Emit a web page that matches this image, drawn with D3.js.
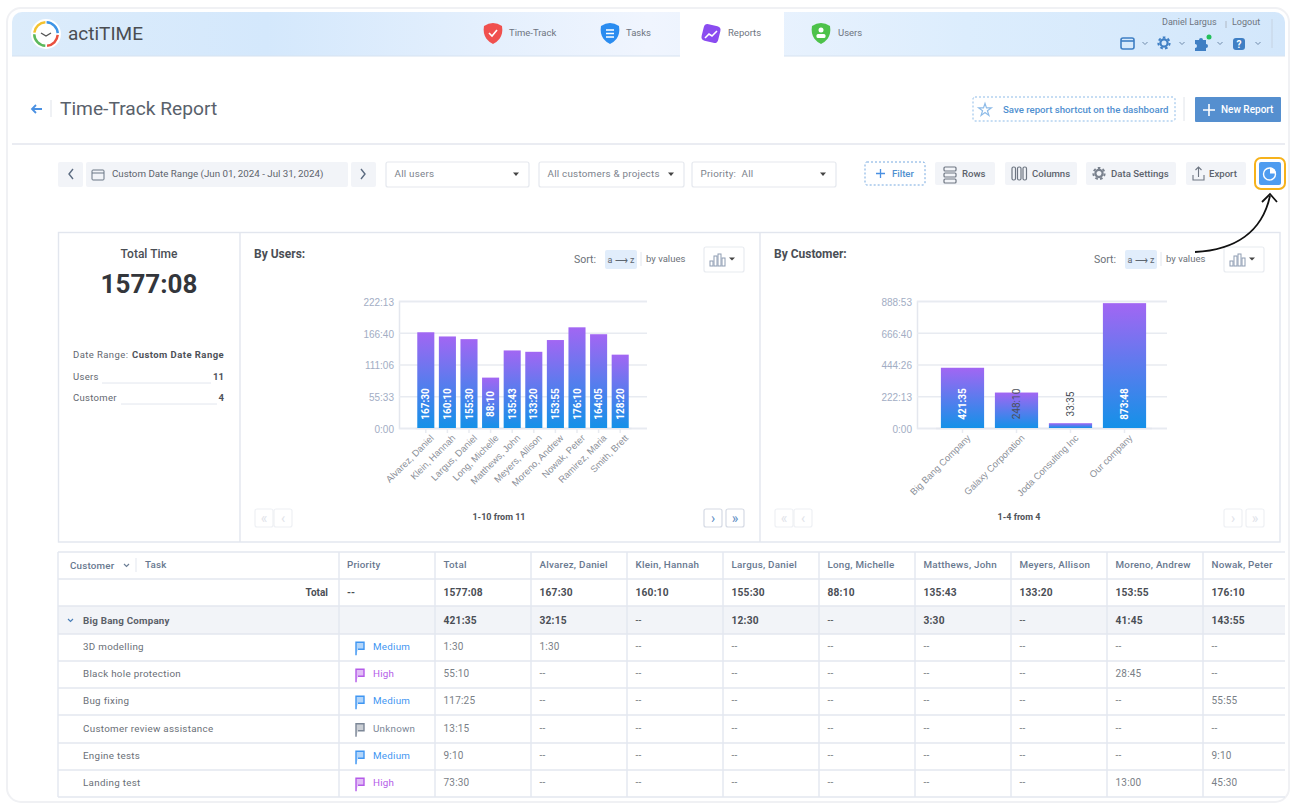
<!DOCTYPE html>
<html>
<head>
<meta charset="utf-8">
<script src="https://cdn.jsdelivr.net/npm/d3@7"></script>
<style>
  html, body { margin: 0; padding: 0; background: #fff; }
  svg { display: block; font-family: Roboto, sans-serif; }
  .axis path.domain { stroke: #e4e7ee; stroke-width: 1.5; }
  .axis line { stroke: #e8ebf1; stroke-width: 1.5; }
  .axis text { fill: #a2adc4; font-size: 10px; }
  .axis.x text { fill: #8b8f98; font-size: 9.4px; }
</style>
</head>
<body>
<svg id="page" width="1297" height="810"></svg>
<script>
// chart values
const userNames = ['Alvarez, Daniel', 'Klein, Hannah', 'Largus, Daniel', 'Long, Michelle', 'Matthews, John',
                   'Meyers, Allison', 'Moreno, Andrew', 'Nowak, Peter', 'Ramirez, Maria', 'Smith, Brett'];
const userTimes = ['167:30', '160:10', '155:30', '88:10', '135:43', '133:20', '153:55', '176:10', '164:05', '128:20'];
const userTicks = ['0:00', '55:33', '111:06', '166:40', '222:13'];

const customerNames = ['Big Bang Company', 'Galaxy Corporation', 'Joda Consulting Inc', 'Our company'];
const customerTimes = ['421:35', '248:10', '33:35', '873:48'];
const customerTicks = ['0:00', '222:13', '444:26', '666:40', '888:53'];

// table values
const tableHeaders = ['Total', 'Alvarez, Daniel', 'Klein, Hannah', 'Largus, Daniel', 'Long, Michelle',
                      'Matthews, John', 'Meyers, Allison', 'Moreno, Andrew', 'Nowak, Peter'];
const totalRow = ['1577:08', '167:30', '160:10', '155:30', '88:10', '135:43', '133:20', '153:55', '176:10'];
const bigBangRow = ['421:35', '32:15', '--', '12:30', '--', '3:30', '--', '41:45', '143:55'];
const taskNames = ['3D modelling', 'Black hole protection', 'Bug fixing', 'Customer review assistance', 'Engine tests', 'Landing test'];
const taskPriorities = ['Medium', 'High', 'Medium', 'Unknown', 'Medium', 'High'];
const taskTimes = [
  ['1:30', '1:30', '--', '--', '--', '--', '--', '--', '--'],
  ['55:10', '--', '--', '--', '--', '--', '--', '28:45', '--'],
  ['117:25', '--', '--', '--', '--', '--', '--', '--', '55:55'],
  ['13:15', '--', '--', '--', '--', '--', '--', '--', '--'],
  ['9:10', '--', '--', '--', '--', '--', '--', '--', '9:10'],
  ['73:30', '--', '--', '--', '--', '--', '--', '13:00', '45:30']
];

const svg = d3.select('#page');
const toMinutes = s => { let p = s.split(':'); return +p[0] * 60 + +p[1]; };
const priorityColor = {Medium: '#3f96f2', High: '#b45be8', Unknown: '#7c8797'};

function txt(g, x, y, str, o = {}) {
  return g.append('text')
          .attr('x', x).attr('y', y)
          .attr('font-size', o.size || 10)
          .attr('font-weight', o.weight || 400)
          .attr('fill', o.fill || '#5b6068')
          .attr('text-anchor', o.anchor || 'start')
          .attr('letter-spacing', o.spacing || 0)
          .text(str);
}

function box(g, x0, y0, x1, y1, o = {}) {
  return g.append('rect')
          .attr('x', x0).attr('y', y0)
          .attr('width', x1 - x0).attr('height', y1 - y0)
          .attr('rx', o.rx === undefined ? 2 : o.rx)
          .attr('fill', o.fill || 'none')
          .attr('stroke', o.stroke || 'none')
          .attr('stroke-width', o.sw || 1)
          .attr('stroke-dasharray', o.dash || null);
}

function line(g, x0, y0, x1, y1, color, width = 1) {
  return g.append('line').attr('x1', x0).attr('y1', y0).attr('x2', x1).attr('y2', y1)
          .attr('stroke', color).attr('stroke-width', width);
}

function stroke(g, d, color, width = 1) {
  return g.append('path').attr('d', d).attr('fill', 'none').attr('stroke', color).attr('stroke-width', width);
}

// cog made of a ring and a dashed ring for the teeth
function cog(g, x, y, color) {
  g.append('circle').attr('cx', x).attr('cy', y).attr('r', 3.6).attr('fill', 'none').attr('stroke', color).attr('stroke-width', 2.2);
  g.append('circle').attr('cx', x).attr('cy', y).attr('r', 5.6).attr('fill', 'none').attr('stroke', color)
   .attr('stroke-width', 2).attr('stroke-dasharray', '2.6 2.3');
}

const defs = svg.append('defs');
let barGrad = defs.append('linearGradient').attr('id', 'barGrad').attr('x1', 0).attr('y1', 0).attr('x2', 0).attr('y2', 1);
barGrad.append('stop').attr('offset', '0%').attr('stop-color', '#a266f3');
barGrad.append('stop').attr('offset', '100%').attr('stop-color', '#1491e8');
let headGrad = defs.append('linearGradient').attr('id', 'headGrad').attr('x1', 0).attr('y1', 0).attr('x2', 1).attr('y2', 0);
headGrad.append('stop').attr('offset', '0%').attr('stop-color', '#dcecfb');
headGrad.append('stop').attr('offset', '20%').attr('stop-color', '#d4e8fc');
headGrad.append('stop').attr('offset', '50%').attr('stop-color', '#f0f5fe');
headGrad.append('stop').attr('offset', '75%').attr('stop-color', '#dcedfd');
headGrad.append('stop').attr('offset', '100%').attr('stop-color', '#d3e7fb');

// page card and header
box(svg, 7, 8, 1289, 802, {fill: '#fff', stroke: '#f0f1f4', sw: 2, rx: 14});
const head = svg.append('g');
head.append('path').attr('d', 'M12 56V22a10 10 0 0 1 10-10H1275a10 10 0 0 1 10 10V56Z').attr('fill', 'url(#headGrad)');
line(head, 12, 56, 1285, 56, '#d6e2f0');
box(head, 680, 12, 784, 57, {fill: '#fff', rx: 0});

// logo
const logo = head.append('g').attr('transform', 'translate(46,34)');
logo.append('circle').attr('r', 15).attr('fill', '#fff');
const logoArc = d3.arc().innerRadius(10.5).outerRadius(13);
[[-1.45, -0.05, '#f4c22f'], [0.05, 1.5, '#3d94e6'], [1.65, 3.05, '#e9503f'], [3.2, 4.7, '#5cb85c']].forEach(a => {
  logo.append('path').attr('fill', a[2]).attr('d', logoArc({startAngle: a[0], endAngle: a[1]}));
});
stroke(logo, 'M-5 -1L0 2L5 -1', '#555', 1.4);
txt(head, 68, 40, 'actiTIME', {size: 19, fill: '#4a4d52'});

// nav tabs, icons are shield shaped
const shield = (x, y) => `M${x - 9} ${y - 7}Q${x} ${y - 13} ${x + 9} ${y - 7}C${x + 11} ${y + 4} ${x + 4} ${y + 9} ${x} ${y + 11}C${x - 4} ${y + 9} ${x - 11} ${y + 4} ${x - 9} ${y - 7}Z`;
[[493, 'Time-Track', 509, '#f0504e'], [610, 'Tasks', 626, '#2a8cf0'], [821, 'Users', 838, '#4dc24a']].forEach(t => {
  head.append('path').attr('d', shield(t[0], 33)).attr('fill', t[3]);
  txt(head, t[2], 36, t[1], {size: 9.5, fill: '#6d7480'});
});
head.append('rect').attr('x', 702.500).attr('y', 25).attr('width', 17).attr('height', 17).attr('rx', 4)
    .attr('transform', 'rotate(14 711 33.500)').attr('fill', '#8a4cf0');
txt(head, 728, 36, 'Reports', {size: 9.5, fill: '#6d7480'});
stroke(head, 'M489 33l3 3 5-6', '#fff', 1.6);
head.append('path').attr('d', 'M606 30h8M606 33.500h8M606 37h8').attr('stroke', '#fff').attr('stroke-width', 1.4);
stroke(head, 'M705 38l4-4 3 2 5-5', '#fff', 1.6);
head.append('circle').attr('cx', 821).attr('cy', 30).attr('r', 2.5).attr('fill', '#fff');
head.append('rect').attr('x', 816.500).attr('y', 34).attr('width', 9).attr('height', 4).attr('rx', 1.5).attr('fill', '#fff');

// user menu
txt(head, 1162, 25, 'Daniel Largus', {size: 9, fill: '#6d7480'});
line(head, 1226, 21, 1226, 28, '#b0b8c4');
txt(head, 1232, 25, 'Logout', {size: 9, fill: '#6d7480'});
line(head, 1272, 19, 1272, 48, '#c6d3e2');
box(head, 1121, 38, 1134, 49, {stroke: '#3f7fc4', sw: 1.6, rx: 2});
line(head, 1121, 41, 1134, 41, '#3f7fc4', 1.6);
cog(head, 1164, 43, '#3f7fc4');
head.append('path').attr('d', 'M1195 40h4a2 2 0 0 1 4 0h3v4a2 2 0 0 1 0 4v3h-11v-3a2 2 0 0 0 0-4Z').attr('fill', '#3f7fc4');
head.append('circle').attr('cx', 1209).attr('cy', 37).attr('r', 2.5).attr('fill', '#22c05a');
box(head, 1233, 38, 1245, 50, {fill: '#3f7fc4', rx: 3});
txt(head, 1239, 48, '?', {size: 10, weight: 700, fill: '#fff', anchor: 'middle'});
[1145, 1182, 1220, 1258].forEach(x => stroke(head, `M${x - 2.500} 42l2.500 2.500 2.500-2.500`, '#6f8bab'));

// title row
const title = svg.append('g');
stroke(title, 'M42 109H32M36 105l-4 4 4 4', '#4a90e2', 1.8);
line(title, 51, 100, 51, 117, '#dfe3ea');
txt(title, 60, 115, 'Time-Track Report', {size: 19.2, fill: '#59616b'});
box(title, 973, 97, 1175, 121, {stroke: '#8dbbe8', dash: '2 2', rx: 2});
title.append('path').attr('d', d3.symbol(d3.symbolStar, 50)()).attr('transform', 'translate(985,110)')
     .attr('fill', 'none').attr('stroke', '#8dbbe8').attr('stroke-width', 1.2);
txt(title, 1003, 113, 'Save report shortcut on the dashboard', {size: 9.63, fill: '#4f8fd0', weight: 500});
line(title, 1184, 97, 1184, 121, '#e0e4ea');
box(title, 1195, 97, 1281, 122, {fill: '#558fcf', rx: 1});
title.append('path').attr('d', 'M1203 110h12M1209 104v12').attr('stroke', '#fff').attr('stroke-width', 1.6);
txt(title, 1221, 113, 'New Report', {size: 10, fill: '#fff', weight: 500});
line(title, 12, 144, 1285, 144, '#e3e6ee', 1.5);

// filter row
const bar = svg.append('g');
box(bar, 58, 162, 83, 187, {fill: '#f2f4f8'});
box(bar, 86, 162, 348, 187, {fill: '#f2f4f8'});
box(bar, 351, 162, 376, 187, {fill: '#f2f4f8'});
stroke(bar, 'M73 169l-4 5 4 5', '#5b6b80', 1.4);
stroke(bar, 'M361 169l4 5-4 5', '#5b6b80', 1.4);
box(bar, 92, 170, 104, 180, {stroke: '#6b7785', rx: 1});
line(bar, 92, 173, 104, 173, '#6b7785');
txt(bar, 112, 177, 'Custom Date Range (Jun 01, 2024 - Jul 31, 2024)', {size: 9.75, fill: '#5d636c'});
[[386, 529, 'All users'], [539, 684, 'All customers & projects'], [692, 836, 'Priority:\u00a0\u00a0All']].forEach(s => {
  box(bar, s[0], 162, s[1], 187, {fill: '#fff', stroke: '#e5e8ee', sw: 1.2});
  txt(bar, s[0] + 8.5, 177, s[2], {size: 9.8, fill: '#7b828c', spacing: 0.25});
  bar.append('path').attr('d', `M${s[1] - 16} 172.500h6l-3 3.500Z`).attr('fill', '#444');
});
box(bar, 865, 162, 925, 185, {stroke: '#76a9e0', dash: '2 2'});
bar.append('path').attr('d', 'M876 173.500h9M880.500 169v9').attr('stroke', '#4a90e2').attr('stroke-width', 1.3);
txt(bar, 892, 177, 'Filter', {size: 9.6, fill: '#4f8fd0', weight: 500});
[[935, 995, 'Rows', 962], [1005, 1077, 'Columns', 1032], [1086, 1176, 'Data Settings', 1111], [1186, 1246, 'Export', 1209]].forEach(b => {
  box(bar, b[0], 162, b[1], 185, {fill: '#f2f4f8'});
  txt(bar, b[3], 177, b[2], {size: 9.6, fill: '#5d636c', weight: 500});
});
[0, 6, 12].forEach(d => box(bar, 944, 167 + d, 956, 171 + d, {stroke: '#6e7682', sw: 1.2, rx: 1}));
[0, 5.500, 11].forEach(d => box(bar, 1012 + d, 167, 1015.500 + d, 180, {stroke: '#6e7682', sw: 1.2, rx: 1.5}));
cog(bar, 1099, 173.500, '#7a828e');
stroke(bar, 'M1193 175v5h11v-5M1198.500 177v-10M1195.500 170l3-3 3 3', '#6e7682', 1.1);
box(bar, 1255, 158, 1285, 189, {stroke: '#f6b21b', sw: 2, rx: 6});
box(bar, 1259, 162, 1281, 185, {fill: '#4e9cf0', rx: 2});
bar.append('circle').attr('cx', 1269.500).attr('cy', 174).attr('r', 6).attr('fill', 'none').attr('stroke', '#fff').attr('stroke-width', 1.4);
bar.append('path').attr('d', 'M1270 173.500V167.500A6 6 0 0 1 1276 173.500Z').attr('fill', '#fff');

// summary panel
const panels = svg.append('g');
box(panels, 58.5, 232.5, 1280, 542, {stroke: '#e2e6ee', sw: 1.4, rx: 0});
line(panels, 240, 232, 240, 542, '#e2e6ee', 1.4);
line(panels, 760, 232, 760, 542, '#e2e6ee', 1.4);
txt(panels, 149, 258, 'Total Time', {size: 12, weight: 500, fill: '#4a4e55', anchor: 'middle'});
txt(panels, 149, 293, '1577:08', {size: 26, weight: 700, fill: '#33363b', anchor: 'middle'});
txt(panels, 73, 358, 'Date Range:', {size: 9.5, fill: '#62676f', spacing: 0.42});
txt(panels, 132, 358, 'Custom Date Range', {size: 9.5, weight: 700, fill: '#4d5158', spacing: 0.45});
txt(panels, 73, 380, 'Users', {size: 9.5, fill: '#62676f', spacing: 0.3});
line(panels, 102, 383, 211, 383, '#e2e6ee');
txt(panels, 224, 380, '11', {size: 9.5, weight: 700, fill: '#4d5158', anchor: 'end'});
txt(panels, 73, 401, 'Customer', {size: 9.5, fill: '#62676f', spacing: 0.3});
line(panels, 121, 404, 217, 404, '#e2e6ee');
txt(panels, 224, 401, '4', {size: 9.5, weight: 700, fill: '#4d5158', anchor: 'end'});

// one bar chart panel: x0 is the left edge of the panel
function barPanel(cfg) {
  let g = svg.append('g');
  txt(g, cfg.x0 + 14, 258, cfg.title, {size: 12, weight: 700, fill: '#4a4e55'});
  let c = cfg.controlsX;
  txt(g, c, 263, 'Sort:', {size: 10.5, fill: '#6c7178'});
  box(g, c + 31, 250, c + 63, 269, {fill: '#e1edfb', rx: 2});
  txt(g, c + 47, 263, 'a ⟶ z', {size: 9, fill: '#5d6670', anchor: 'middle'});
  line(g, c + 67, 252, c + 67, 266, '#e2e6ee');
  txt(g, c + 72, 262, 'by values', {size: 9.5, fill: '#6c7178'});
  box(g, c + 130, 247, c + 170, 272, {fill: '#fff', stroke: '#e8ebf0', sw: 1.2});
  [[0, 5], [4, 10], [8, 12], [12, 8]].forEach(b => box(g, c + 136 + b[0], 266 - b[1], c + 139 + b[0], 266, {stroke: '#8d9cb2', rx: 0}));
  g.append('path').attr('d', `M${c + 155} 257.500h6l-3 3Z`).attr('fill', '#444');

  let yScale = d3.scaleLinear()
                 .domain([0, toMinutes(cfg.ticks[cfg.ticks.length - 1])])
                 .range([428, 301]);
  let xScale = d3.scaleBand()
                 .domain(cfg.names)
                 .range(cfg.bandRange)
                 .paddingInner(cfg.pad)
                 .paddingOuter(cfg.pad / 2);

  let yAxis = d3.axisLeft(yScale)
                .tickValues(cfg.ticks.map(toMinutes))
                .tickFormat((d, i) => cfg.ticks[i])
                .tickSize(-(cfg.right - cfg.left))
                .tickPadding(5);
  let yg = g.append('g')
            .attr('class', 'axis y')
            .attr('transform', `translate(${cfg.left},0)`)
            .call(yAxis);
  yg.selectAll('text').attr('y', 1.2);

  let xAxis = d3.axisBottom(xScale).tickSize(5).tickSizeOuter(0);
  let xg = g.append('g')
            .attr('class', 'axis x')
            .attr('transform', 'translate(0,428)')
            .call(xAxis);
  xg.selectAll('text')
    .attr('text-anchor', 'end')
    .attr('dy', 0)
    .attr('transform', 'translate(3,5) rotate(-45)');

  g.selectAll('.bar')
   .data(cfg.times)
   .join('rect')
   .attr('class', 'bar')
   .attr('x', (d, i) => xScale(cfg.names[i]))
   .attr('y', d => yScale(toMinutes(d)))
   .attr('width', xScale.bandwidth())
   .attr('height', d => 428 - yScale(toMinutes(d)))
   .attr('fill', 'url(#barGrad)');

  // labels sit at one height; short bars get dark text
  g.selectAll('.barLabel')
   .data(cfg.times)
   .join('text')
   .attr('class', 'barLabel')
   .attr('transform', (d, i) => `translate(${xScale(cfg.names[i]) + xScale.bandwidth() / 2 + 3.5},404) rotate(-90)`)
   .attr('text-anchor', 'middle')
   .attr('font-size', 10)
   .attr('font-weight', d => toMinutes(d) < cfg.darkBelow ? 400 : 700)
   .attr('fill', d => toMinutes(d) < cfg.darkBelow ? '#4a4f58' : '#fff')
   .text(d => d);

  txt(g, cfg.pagerX, 520, cfg.pager, {size: 9, weight: 700, fill: '#4f5359', anchor: 'middle'});
  // pager buttons
  let pagerBox = (x, sym, on) => {
    box(g, x, 509, x + 18, 527, {stroke: on ? '#d5dae4' : '#eef0f4', sw: 1.2});
    txt(g, x + 9, 523, sym, {size: 14, fill: on ? '#5f8fc4' : '#dfe3ea', anchor: 'middle'});
  };
  pagerBox(cfg.x0 + 15, '«', false);
  pagerBox(cfg.x0 + 34, '‹', false);
  pagerBox(cfg.x0 + 464, '›', cfg.more);
  pagerBox(cfg.x0 + 486, '»', cfg.more);
}

barPanel({x0: 240, title: 'By Users:', controlsX: 574, names: userNames, times: userTimes, ticks: userTicks,
          left: 399, right: 647, bandRange: [415, 631], pad: 0.21, darkBelow: 0, pager: '1-10 from 11', pagerX: 499, more: true});
barPanel({x0: 760, title: 'By Customer:', controlsX: 1094, names: customerNames, times: customerTimes, ticks: customerTicks,
          left: 917, right: 1167, bandRange: [935.5, 1151.5], pad: 0.2, darkBelow: 15000, pager: '1-4 from 4', pagerX: 1019, more: false});

// annotation arrow
stroke(svg, 'M1195 252C1235 250 1262 232 1270 196', '#111', 1.8);
stroke(svg, 'M1262 202L1270 194L1277 202', '#111', 1.8);

// report table
const table = svg.append('g');
const rowEdges = [552, 579, 606, 634, 661, 688, 715, 743, 770, 797];
const colEdges = [58, 339, 435, 531, 627, 723, 819, 915, 1011, 1107, 1203, 1285];
const colX = i => colEdges[i + 2] + 8.5;
const rowY = i => (rowEdges[i] + rowEdges[i + 1]) / 2 + 3.5;
box(table, 58, 606, 1285, 634, {fill: '#f2f4f8', rx: 0});
rowEdges.forEach(y => line(table, 58, y, 1285, y, '#e3e7ef', 1.4));
colEdges.slice(0, -1).forEach(x => line(table, x, 552, x, 797, '#e3e7ef', 1.4));

const headY = rowY(0) - 1;
txt(table, 70, headY + 1, 'Customer', {size: 9.8, weight: 500, fill: '#68788f', spacing: 0.2});
stroke(table, 'M124 564l2.500 2.500 2.500-2.500', '#6d7f96', 1.2);
line(table, 136, 558, 136, 572, '#e3e7ef');
txt(table, 145, headY, 'Task', {size: 9.8, weight: 500, fill: '#68788f', spacing: 0.2});
txt(table, 347, headY, 'Priority', {size: 9.8, weight: 500, fill: '#68788f', spacing: 0.2});
tableHeaders.forEach((h, i) => txt(table, colX(i), headY, h, {size: 9.8, weight: 500, fill: '#68788f', spacing: 0.25}));

txt(table, 328, rowY(1), 'Total', {size: 10, weight: 700, fill: '#4a4e55', anchor: 'end'});
txt(table, 347, rowY(1), '--', {size: 10, weight: 700, fill: '#4a4e55'});
totalRow.forEach((v, i) => txt(table, colX(i), rowY(1), v, {size: 10.2, weight: 700, fill: '#4a4e55', spacing: 0.2}));

stroke(table, 'M68 619l2.500 2.500 2.500-2.500', '#4a7fb8', 1.2);
txt(table, 83, rowY(2), 'Big Bang Company', {size: 9.8, weight: 700, fill: '#5a6068', spacing: 0.2});
bigBangRow.forEach((v, i) => txt(table, colX(i), rowY(2), v, {size: 10.2, weight: v === '--' ? 400 : 700, fill: '#4a4e55', spacing: 0.2}));

taskNames.forEach((name, r) => {
  let y = rowY(r + 3) - 0.7;
  let color = priorityColor[taskPriorities[r]];
  txt(table, 83, y, name, {size: 9.8, fill: '#6a6f77', spacing: 0.3});
  table.append('path')
       .attr('d', `M356 ${y + 5}V${y - 8}H364V${y - 1}H358`)
       .attr('fill', color).attr('fill-opacity', 0.4)
       .attr('stroke', color).attr('stroke-width', 1.4);
  txt(table, 373, y, taskPriorities[r], {size: 9.8, fill: color, spacing: 0.25});
  taskTimes[r].forEach((v, i) => txt(table, colX(i), y, v, {size: 10, fill: '#7a7f87', spacing: 0.2}));
});
</script>
</body>
</html>
